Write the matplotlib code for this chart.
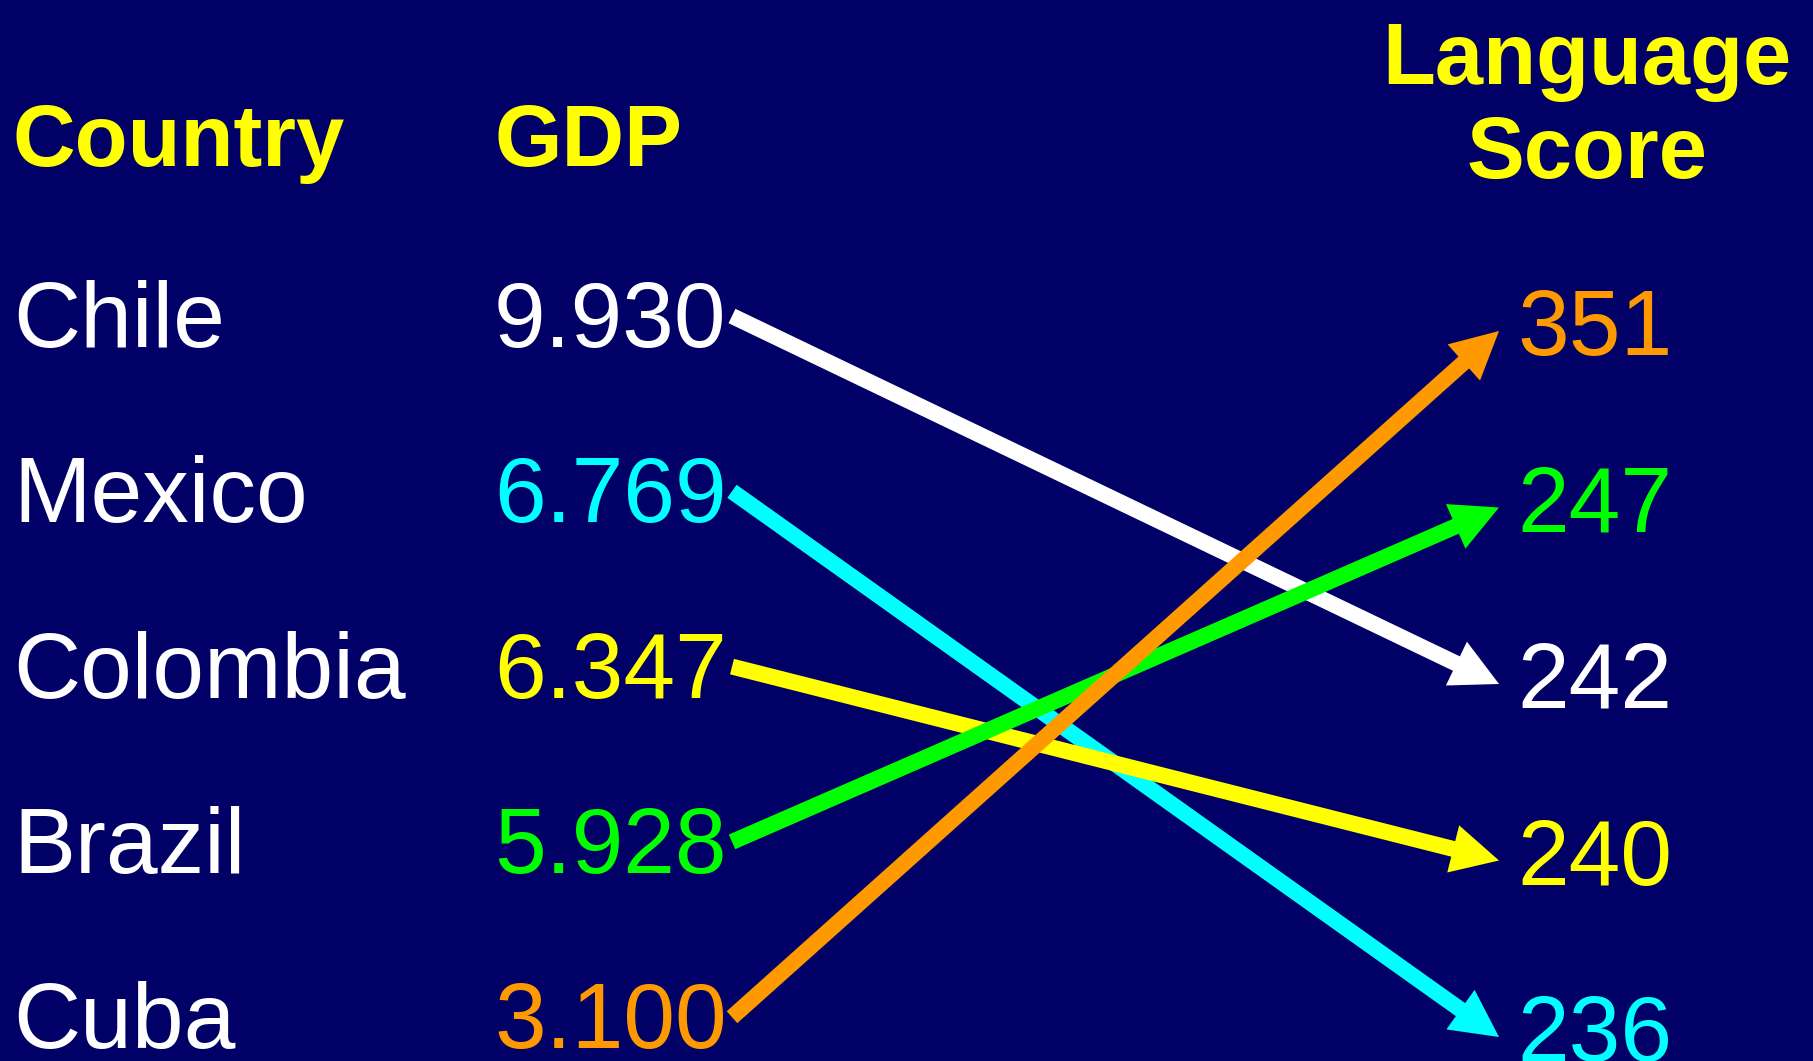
import matplotlib.pyplot as plt
from matplotlib.patches import FancyArrowPatch, ArrowStyle

# Data
countries = ['Chile', 'Mexico', 'Colombia', 'Brazil', 'Cuba']
gdp = [9.930, 6.769, 6.347, 5.928, 3.100]
language_score = [242, 236, 240, 247, 351]
colors = ['#FFFFFF', '#00FFFF', '#FFFF00', '#00FF00', '#FF9900']

bg = '#000066'
header_color = '#FFFF00'

plt.rcParams['font.family'] = ['Liberation Sans', 'Arial', 'DejaVu Sans']

# Canvas in pixel units
W, H = 1813, 1061
fig = plt.figure(figsize=(W / 100, H / 100), dpi=100, facecolor=bg)
ax = fig.add_axes([0, 0, 1, 1])
ax.set_xlim(0, W)
ax.set_ylim(H, 0)
ax.set_facecolor(bg)
ax.axis('off')

# Column layout
x_name, x_gdp, x_score = 13, 494, 1517
left_y0, left_step = 347, 175.3
right_y0, right_step = 355, 176.5
arrow_x0, arrow_x1 = 732, 1499

# Headers
ax.text(x_name, 166, 'Country', color=header_color, fontsize=62.5,
        fontweight='bold', va='baseline', ha='left')
ax.text(x_gdp, 166, 'GDP', color=header_color, fontsize=62.5,
        fontweight='bold', va='baseline', ha='left')
ax.text(1587, 178, 'Language\nScore', color=header_color, fontsize=62.5,
        fontweight='bold', va='baseline', ha='center', multialignment='center',
        linespacing=1.2)

# Right column is ranked by language score
order = sorted(range(len(countries)), key=lambda i: -language_score[i])
rank = {i: r for r, i in enumerate(order)}

for i, name in enumerate(countries):
    yl = left_y0 + i * left_step
    yr = right_y0 + rank[i] * right_step
    ax.text(x_name, yl, name, color='white', fontsize=67, va='baseline')
    ax.text(x_gdp, yl, f'{gdp[i]:.3f}', color=colors[i], fontsize=67,
            va='baseline')
    ax.text(x_score, yr, str(language_score[i]), color=colors[i],
            fontsize=67, va='baseline')

    arrow = FancyArrowPatch(
        (arrow_x0, yl - 31), (arrow_x1, yr - 24),
        arrowstyle=ArrowStyle.Simple(head_length=34, head_width=35,
                                     tail_width=11.5),
        mutation_scale=1, shrinkA=0, shrinkB=0,
        facecolor=colors[i], edgecolor='none', linewidth=0)
    ax.add_patch(arrow)

fig.savefig('out.png', dpi=100, facecolor=bg)
